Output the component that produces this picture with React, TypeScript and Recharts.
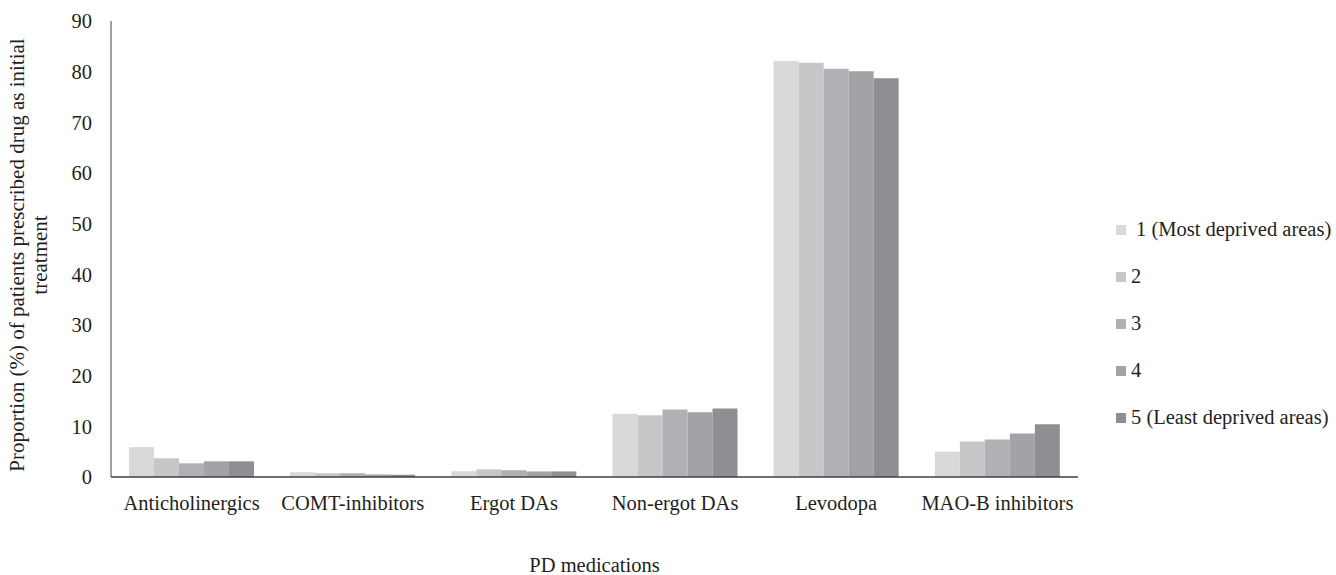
import { BarChart, Bar, XAxis, YAxis, Legend } from 'recharts';

const categories = ['Anticholinergics', 'COMT-inhibitors', 'Ergot DAs', 'Non-ergot DAs', 'Levodopa', 'MAO-B inhibitors'];
const q1 = [5.9, 0.95, 1.15, 12.5, 82.1, 5.0];
const q2 = [3.7, 0.75, 1.5, 12.2, 81.75, 7.0];
const q3 = [2.7, 0.75, 1.35, 13.3, 80.6, 7.4];
const q4 = [3.1, 0.5, 1.1, 12.8, 80.1, 8.6];
const q5 = [3.1, 0.45, 1.1, 13.5, 78.7, 10.4];
const seriesNames = ['1 (Most deprived areas)', '2', '3', '4', '5 (Least deprived areas)'];
const colors = ['#d9d9db', '#c6c7c9', '#b0b1b4', '#a2a3a6', '#8e8f92'];
const yTicks = [0, 10, 20, 30, 40, 50, 60, 70, 80, 90];

const data = categories.map((name, i) => ({
  name,
  q1: q1[i],
  q2: q2[i],
  q3: q3[i],
  q4: q4[i],
  q5: q5[i],
}));
const keys = ['q1', 'q2', 'q3', 'q4', 'q5'];

const font = '"Liberation Serif", "Times New Roman", serif';
const fs = 20.5;
const textColor = '#231f20';

function LegendBox() {
  return (
    <div style={{ fontFamily: font, fontSize: fs, color: textColor }}>
      {seriesNames.map((n, i) => (
        <div key={n} style={{ display: 'flex', alignItems: 'center', height: 47 }}>
          <span style={{ width: 10, height: 10, background: colors[i], display: 'inline-block', marginRight: i === 0 ? 10 : 5 }} />
          <span style={{ whiteSpace: 'nowrap' }}>{n}</span>
        </div>
      ))}
    </div>
  );
}

// two-line rotated axis title, sits a little below the plot's middle like the original
function YLabel(props: any) {
  const vb = props.viewBox || {};
  const cy = vb.y + vb.height / 2 + 6;
  return (
    <text transform={`rotate(-90, 0, ${cy})`} x={0} y={cy} textAnchor="middle" fontFamily={font} fontSize={21} fill={textColor}>
      <tspan x={0} dy={24}>Proportion (%) of patients prescribed drug as initial</tspan>
      <tspan x={0} dy={23}>treatment</tspan>
    </text>
  );
}

export default function App() {
  return (
    <div style={{ position: 'absolute', left: 0, top: 0, width: 1336, height: 575, background: '#fff' }}>
      <BarChart width={1336} height={575} data={data} margin={{ top: 21, right: 258, bottom: 0, left: 0 }} barCategoryGap={18} barGap={0}>
        <XAxis
          dataKey="name"
          height={98}
          axisLine={{ stroke: '#404040', strokeWidth: 1.5 }}
          tickLine={false}
          tickMargin={12}
          tick={{ fontFamily: font, fontSize: fs, fill: textColor }}
          label={{ value: 'PD medications', position: 'insideBottom', offset: 3, fontFamily: font, fontSize: fs, fill: textColor }}
        />
        <YAxis
          width={111}
          domain={[0, 90]}
          ticks={yTicks}
          interval={0}
          axisLine={{ stroke: '#404040', strokeWidth: 1 }}
          tickLine={false}
          tickMargin={13}
          tick={{ fontFamily: font, fontSize: fs, fill: textColor }}
          label={<YLabel />}
        />
        <Legend
          layout="vertical"
          align="center"
          verticalAlign="middle"
          content={<LegendBox />}
          wrapperStyle={{ position: 'absolute', left: 1116, top: 206, width: 220 }}
        />
        {keys.map((k, i) => (
          <Bar key={k} dataKey={k} name={seriesNames[i]} fill={colors[i]} isAnimationActive={false} />
        ))}
      </BarChart>
    </div>
  );
}
